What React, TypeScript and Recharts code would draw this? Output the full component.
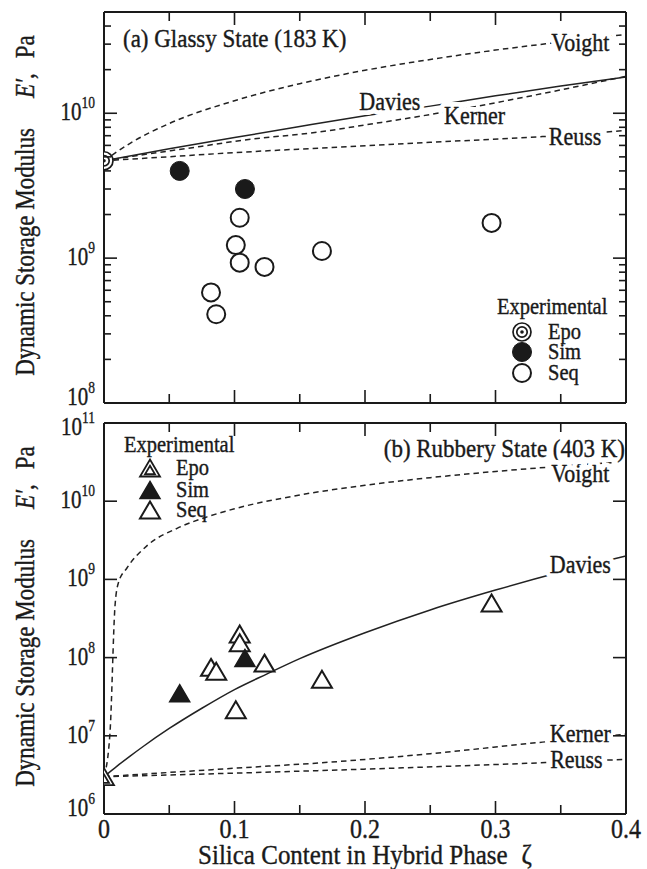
import React from 'react';
import { ComposedChart, Line, Scatter, XAxis, YAxis, ReferenceDot, Legend } from 'recharts';

const FONT = '"Liberation Serif", "Times New Roman", Times, serif';
const INK = '#1a1a1a';

type Pt = { x: number; y: number };

// ---------- axis ticks ----------
const zetaTicks = [0, 0.05, 0.1, 0.15, 0.2, 0.25, 0.3, 0.35, 0.4];
const glassyTicks = [
  1e8, 2e8, 3e8, 4e8, 5e8, 6e8, 7e8, 8e8, 9e8,
  1e9, 2e9, 3e9, 4e9, 5e9, 6e9, 7e9, 8e9, 9e9,
  1e10, 2e10, 3e10, 4e10,
];
const rubberyTicks = [1e6, 1e7, 1e8, 1e9, 1e10, 1e11];

// ---------- (a) glassy state 183 K ----------
const epoGlassy: Pt[] = [{ x: 0, y: 4.7e9 }];
const simGlassy: Pt[] = [
  { x: 0.058, y: 4.0e9 },
  { x: 0.108, y: 3.0e9 },
];
const seqGlassy: Pt[] = [
  { x: 0.104, y: 1.9e9 },
  { x: 0.101, y: 1.23e9 },
  { x: 0.104, y: 0.93e9 },
  { x: 0.123, y: 0.87e9 },
  { x: 0.082, y: 5.8e8 },
  { x: 0.086, y: 4.1e8 },
  { x: 0.167, y: 1.12e9 },
  { x: 0.297, y: 1.75e9 },
];
const voigtGlassy: Pt[] = [
  { x: 0, y: 4.7e9 }, { x: 0.02, y: 6.2e9 }, { x: 0.05, y: 8.5e9 }, { x: 0.1, y: 1.22e10 },
  { x: 0.15, y: 1.6e10 }, { x: 0.2, y: 1.98e10 }, { x: 0.25, y: 2.35e10 }, { x: 0.3, y: 2.73e10 },
  { x: 0.35, y: 3.1e10 }, { x: 0.4, y: 3.5e10 },
];
const daviesGlassy: Pt[] = [
  { x: 0, y: 4.7e9 }, { x: 0.05, y: 5.68e9 }, { x: 0.1, y: 6.8e9 }, { x: 0.15, y: 8.1e9 },
  { x: 0.2, y: 9.6e9 }, { x: 0.25, y: 1.12e10 }, { x: 0.3, y: 1.32e10 }, { x: 0.35, y: 1.54e10 },
  { x: 0.4, y: 1.78e10 },
];
const kernerGlassy: Pt[] = [
  { x: 0, y: 4.7e9 }, { x: 0.022, y: 5.05e9 }, { x: 0.074, y: 5.9e9 }, { x: 0.1, y: 6.4e9 },
  { x: 0.173, y: 7.6e9 }, { x: 0.2, y: 8.3e9 }, { x: 0.25, y: 9.8e9 }, { x: 0.31, y: 1.23e10 },
  { x: 0.35, y: 1.45e10 }, { x: 0.4, y: 1.8e10 },
];
const reussGlassy: Pt[] = [
  { x: 0, y: 4.7e9 }, { x: 0.048, y: 5.0e9 }, { x: 0.1, y: 5.35e9 }, { x: 0.173, y: 5.8e9 },
  { x: 0.25, y: 6.3e9 }, { x: 0.336, y: 6.9e9 }, { x: 0.4, y: 7.6e9 },
];
const glassyCurveLabels = [
  { text: 'Voight', x: 0.365, y: 3.0e10 },
  { text: 'Davies', x: 0.219, y: 1.17e10 },
  { text: 'Kerner', x: 0.284, y: 9.4e9 },
  { text: 'Reuss', x: 0.361, y: 6.8e9 },
];

// ---------- (b) rubbery state 403 K ----------
const epoRubbery: Pt[] = [{ x: 0, y: 3.0e6 }];
const simRubbery: Pt[] = [
  { x: 0.058, y: 3.5e7 },
  { x: 0.108, y: 9.9e7 },
];
const seqRubbery: Pt[] = [
  { x: 0.104, y: 2.0e8 },
  { x: 0.104, y: 1.55e8 },
  { x: 0.082, y: 7.5e7 },
  { x: 0.086, y: 6.7e7 },
  { x: 0.123, y: 8.5e7 },
  { x: 0.101, y: 2.15e7 },
  { x: 0.167, y: 5.3e7 },
  { x: 0.297, y: 5.0e8 },
];
const voigtRubbery: Pt[] = [
  { x: 0, y: 3e6 }, { x: 0.0046, y: 1.1e7 }, { x: 0.0084, y: 4.5e8 }, { x: 0.011, y: 9e8 },
  { x: 0.0176, y: 1.4e9 }, { x: 0.033, y: 2.7e9 }, { x: 0.056, y: 4.5e9 }, { x: 0.079, y: 6.3e9 },
  { x: 0.1, y: 8e9 }, { x: 0.15, y: 1.2e10 }, { x: 0.2, y: 1.6e10 }, { x: 0.25, y: 2e10 },
  { x: 0.3, y: 2.4e10 }, { x: 0.35, y: 2.8e10 }, { x: 0.4, y: 3.2e10 },
];
const daviesRubbery: Pt[] = [
  { x: 0, y: 3e6 }, { x: 0.01, y: 4.1e6 }, { x: 0.02, y: 5.5e6 }, { x: 0.03, y: 7.3e6 },
  { x: 0.05, y: 1.24e7 }, { x: 0.075, y: 2.25e7 }, { x: 0.1, y: 3.9e7 }, { x: 0.125, y: 6.2e7 },
  { x: 0.15, y: 9.7e7 }, { x: 0.2, y: 2.08e8 }, { x: 0.25, y: 4.07e8 }, { x: 0.3, y: 7.3e8 },
  { x: 0.35, y: 1.24e9 }, { x: 0.4, y: 2.0e9 },
];
const kernerRubbery: Pt[] = [
  { x: 0, y: 3e6 }, { x: 0.05, y: 3.4e6 }, { x: 0.1, y: 3.85e6 }, { x: 0.173, y: 4.6e6 },
  { x: 0.25, y: 5.9e6 }, { x: 0.336, y: 8.3e6 }, { x: 0.4, y: 1.05e7 },
];
const reussRubbery: Pt[] = [
  { x: 0, y: 3e6 }, { x: 0.1, y: 3.33e6 }, { x: 0.2, y: 3.75e6 }, { x: 0.3, y: 4.29e6 },
  { x: 0.4, y: 5.0e6 },
];
const rubberyCurveLabels = [
  { text: 'Voight', x: 0.365, y: 2.16e10 },
  { text: 'Davies', x: 0.365, y: 1.48e9 },
  { text: 'Kerner', x: 0.365, y: 1.02e7 },
  { text: 'Reuss', x: 0.362, y: 4.77e6 },
];

const legendItems = ['Epo', 'Sim', 'Seq'];

// ---------- helpers ----------
const axisLineStyle = { stroke: INK, strokeWidth: 2 };

const STxt = ({ x, y, size, anchor = 'start', sy = 1.1, halo = false, rotate = 0, children }: any) => {
  const common = {
    transform: `translate(${x},${y}) rotate(${rotate}) scale(1,${sy})`,
    fontFamily: FONT,
    fontSize: size,
    textAnchor: anchor,
    strokeLinejoin: 'round' as const,
  };
  return (
    <g>
      {halo && (
        <text {...common} fill="#fff" stroke="#fff" strokeWidth={9}>
          {children}
        </text>
      )}
      <text {...common} fill={INK} stroke={INK} strokeWidth={0.35}>
        {children}
      </text>
    </g>
  );
};

const isDecade = (v: number) => {
  const l = Math.log10(v);
  return Math.abs(l - Math.round(l)) < 1e-6;
};
const isTenth = (v: number) => Math.abs(v * 10 - Math.round(v * 10)) < 1e-6;

// nudge labels sitting on the panel edges so the two stacked panels' labels do not collide
const LeftLogTick = (lo: number, hi: number) => (p: any) => {
  const { x, y, payload } = p;
  const v = payload.value;
  const major = isDecade(v);
  const e = Math.round(Math.log10(v));
  const nudge = Math.abs(v - lo) / lo < 1e-6 ? -5 : Math.abs(v - hi) / hi < 1e-6 ? 5 : 0;
  return (
    <g>
      <line x1={x} x2={x + (major ? 13 : 7)} y1={y} y2={y} stroke={INK} strokeWidth={1.6} />
      {major && (
        <text
          transform={`translate(${x - 9},${y + 7 + nudge}) scale(1,1.2)`}
          textAnchor="end"
          fontFamily={FONT}
          fontSize={21}
          fill={INK}
          stroke={INK}
          strokeWidth={0.3}
        >
          10
          <tspan dy={-10} fontSize={13.5}>
            {e}
          </tspan>
        </text>
      )}
    </g>
  );
};

const RightLogTick = (p: any) => {
  const { x, y, payload } = p;
  const major = isDecade(payload.value);
  return <line x1={x} x2={x - (major ? 13 : 7)} y1={y} y2={y} stroke={INK} strokeWidth={1.6} />;
};

const BottomTick = (withLabels: boolean) => (p: any) => {
  const { x, y, payload } = p;
  const v = payload.value;
  const major = isTenth(v);
  return (
    <g>
      <line x1={x} x2={x} y1={y} y2={y - (major ? 13 : 9)} stroke={INK} strokeWidth={1.6} />
      {withLabels && major && (
        <STxt x={x} y={y + 24} size={24} anchor="middle" sy={1.12}>
          {v === 0 ? '0' : v.toFixed(1)}
        </STxt>
      )}
    </g>
  );
};

const TopTick = (p: any) => {
  const { x, y, payload } = p;
  const major = isTenth(payload.value);
  return <line x1={x} x2={x} y1={y} y2={y + (major ? 13 : 9)} stroke={INK} strokeWidth={1.6} />;
};

const YTitle = (p: any) => {
  const vb = p.viewBox || { x: 0, y: 0, width: 104, height: 400 };
  const cy = vb.y + vb.height / 2 - 2;
  return (
    <STxt x={34} y={cy} size={23} anchor="middle" sy={1.2} rotate={-90}>
      Dynamic Storage Modulus
      <tspan dx={30} fontStyle="italic">E′</tspan>
      ,
      <tspan dx={15}>Pa</tspan>
    </STxt>
  );
};

const XTitle = (p: any) => {
  const vb = p.viewBox;
  return (
    <STxt x={vb.x + vb.width / 2} y={vb.y + 50} size={25} anchor="middle" sy={1.1}>
      Silica Content in Hybrid Phase
      <tspan dx={14}>ζ</tspan>
    </STxt>
  );
};

const PanelTitle = (text: string, side: 'left' | 'right', dy: number) => (p: any) => {
  const vb = p.viewBox;
  const x = side === 'left' ? vb.x + 19 : vb.x + vb.width - 1;
  return (
    <STxt x={x} y={vb.y + dy} size={23} anchor={side === 'left' ? 'start' : 'end'} sy={1.1} halo>
      {text}
    </STxt>
  );
};

// ---------- markers ----------
const OpenCircle = (p: any) => (
  <circle cx={p.cx} cy={p.cy} r={9} fill="#fff" stroke={INK} strokeWidth={2} />
);
const FilledCircle = (p: any) => <circle cx={p.cx} cy={p.cy} r={9.5} fill={INK} stroke={INK} strokeWidth={1} />;
const EpoCircle = (p: any) => (
  <g>
    <circle cx={p.cx} cy={p.cy} r={9} fill="#fff" stroke={INK} strokeWidth={1.7} />
    <circle cx={p.cx} cy={p.cy} r={5.2} fill="#fff" stroke={INK} strokeWidth={1.7} />
    <circle cx={p.cx} cy={p.cy} r={1.8} fill={INK} />
  </g>
);
const triPts = (cx: number, cy: number, s: number) =>
  `${cx},${cy - 8.5 * s} ${cx + 10 * s},${cy + 8.5 * s} ${cx - 10 * s},${cy + 8.5 * s}`;
const OpenTri = (p: any) => (
  <polygon points={triPts(p.cx, p.cy, 1)} fill="#fff" stroke={INK} strokeWidth={2} strokeLinejoin="miter" />
);
const FilledTri = (p: any) => (
  <polygon points={triPts(p.cx, p.cy, 1)} fill={INK} stroke={INK} strokeWidth={1.5} />
);
const EpoTri = (p: any) => (
  <g>
    <polygon points={triPts(p.cx, p.cy, 1)} fill="#fff" stroke={INK} strokeWidth={1.8} />
    <polygon points={triPts(p.cx, p.cy + 2, 0.5)} fill="#fff" stroke={INK} strokeWidth={1.8} />
  </g>
);

const CurveLabel = (text: string) => (p: any) => (
  <STxt x={p.cx} y={p.cy + 7} size={22} anchor="middle" sy={1.12} halo>
    {text}
  </STxt>
);

const LegendBox = ({ shapes, tx, ty, mx, my, lx }: any) => (
  <svg width={150} height={100} style={{ overflow: 'visible' }}>
    <STxt x={tx} y={ty} size={20.5} sy={1.12}>
      Experimental
    </STxt>
    {legendItems.map((name, i) => {
      const S = shapes[i];
      return (
        <g key={name}>
          <S cx={mx} cy={my[i]} />
          <STxt x={lx} y={my[i] + 7} size={20.5} sy={1.12}>
            {name}
          </STxt>
        </g>
      );
    })}
  </svg>
);

const dashed = { stroke: '#222', strokeWidth: 1.5, strokeDasharray: '5.5 4' };
const solid = { stroke: '#222', strokeWidth: 1.5 };

const curveLine = (data: Pt[], style: any, key: string) => (
  <Line
    key={key}
    data={data}
    dataKey="y"
    xAxisId="b"
    yAxisId="l"
    type="monotone"
    dot={false}
    activeDot={false}
    isAnimationActive={false}
    legendType="none"
    {...style}
  />
);

const Panel = ({
  height, top, bottomAxisH, logDomain, logTicks, curves, labels, seq, sim, epo, shapes,
  title, titleSide, titleDy, legend, xLabels,
}: any) => (
  <ComposedChart width={647} height={height} margin={{ top, right: 20, bottom: 0, left: 0 }}>
    <XAxis
      xAxisId="b"
      type="number"
      dataKey="x"
      domain={[0, 0.4]}
      ticks={zetaTicks}
      interval={0}
      allowDataOverflow
      tickSize={0}
      tickMargin={0}
      tickLine={false}
      axisLine={axisLineStyle}
      height={bottomAxisH}
      tick={BottomTick(xLabels)}
      label={xLabels ? XTitle : undefined}
    />
    <XAxis
      xAxisId="t"
      orientation="top"
      type="number"
      dataKey="x"
      domain={[0, 0.4]}
      ticks={zetaTicks}
      interval={0}
      allowDataOverflow
      tickSize={0}
      tickMargin={0}
      tickLine={false}
      axisLine={axisLineStyle}
      height={1}
      tick={TopTick}
      label={PanelTitle(title, titleSide, titleDy)}
    />
    <YAxis
      yAxisId="l"
      type="number"
      dataKey="y"
      scale="log"
      domain={logDomain}
      ticks={logTicks}
      interval={0}
      allowDataOverflow
      tickSize={0}
      tickMargin={0}
      tickLine={false}
      axisLine={axisLineStyle}
      width={104}
      tick={LeftLogTick(logDomain[0], logDomain[1])}
      label={YTitle}
    />
    <YAxis
      yAxisId="r"
      orientation="right"
      type="number"
      dataKey="y"
      scale="log"
      domain={logDomain}
      ticks={logTicks}
      interval={0}
      allowDataOverflow
      tickSize={0}
      tickMargin={0}
      tickLine={false}
      axisLine={axisLineStyle}
      width={1}
      tick={RightLogTick}
    />
    {curves.map((c: any, i: number) => curveLine(c.data, c.style, 'c' + i))}
    {labels.map((l: any) => (
      <ReferenceDot
        key={l.text}
        x={l.x}
        y={l.y}
        xAxisId="b"
        yAxisId="l"
        r={0}
        ifOverflow="visible"
        shape={CurveLabel(l.text)}
      />
    ))}
    <Scatter data={seq} xAxisId="b" yAxisId="l" shape={shapes[2]} isAnimationActive={false} legendType="none" />
    <Scatter data={sim} xAxisId="b" yAxisId="l" shape={shapes[1]} isAnimationActive={false} legendType="none" />
    <Scatter data={epo} xAxisId="b" yAxisId="l" shape={shapes[0]} isAnimationActive={false} legendType="none" />
    <Legend
      layout="horizontal"
      verticalAlign="middle"
      align="center"
      wrapperStyle={{ left: legend.left, top: legend.top, width: 150, height: 100 }}
      content={() => <LegendBox shapes={shapes} {...legend.box} />}
    />
  </ComposedChart>
);

export default function App() {
  return (
    <div style={{ position: 'absolute', left: 0, top: 0, width: 647, height: 869, background: '#fff' }}>
      <div style={{ position: 'absolute', left: 0, top: 0 }}>
        <Panel
          height={420}
          top={11}
          bottomAxisH={17}
          logDomain={[1e8, 5e10]}
          logTicks={glassyTicks}
          curves={[
            { data: voigtGlassy, style: dashed },
            { data: reussGlassy, style: dashed },
            { data: kernerGlassy, style: dashed },
            { data: daviesGlassy, style: solid },
          ]}
          labels={glassyCurveLabels}
          seq={seqGlassy}
          sim={simGlassy}
          epo={epoGlassy}
          shapes={[EpoCircle, FilledCircle, OpenCircle]}
          title="(a) Glassy State (183 K)"
          titleSide="left"
          titleDy={36}
          xLabels={false}
          legend={{
            left: 480,
            top: 290,
            box: { tx: 17, ty: 24, mx: 42, my: [42, 62, 83], lx: 68 },
          }}
        />
      </div>
      <div style={{ position: 'absolute', left: 0, top: 400 }}>
        <Panel
          height={469}
          top={22}
          bottomAxisH={55}
          logDomain={[1e6, 1e11]}
          logTicks={rubberyTicks}
          curves={[
            { data: voigtRubbery, style: dashed },
            { data: reussRubbery, style: dashed },
            { data: kernerRubbery, style: dashed },
            { data: daviesRubbery, style: solid },
          ]}
          labels={rubberyCurveLabels}
          seq={seqRubbery}
          sim={simRubbery}
          epo={epoRubbery}
          shapes={[EpoTri, FilledTri, OpenTri]}
          title="(b) Rubbery State (403 K)"
          titleSide="right"
          titleDy={35}
          xLabels={true}
          legend={{
            left: 110,
            top: 25,
            box: { tx: 14, ty: 27, mx: 40, my: [43, 65, 85], lx: 66 },
          }}
        />
      </div>
    </div>
  );
}
